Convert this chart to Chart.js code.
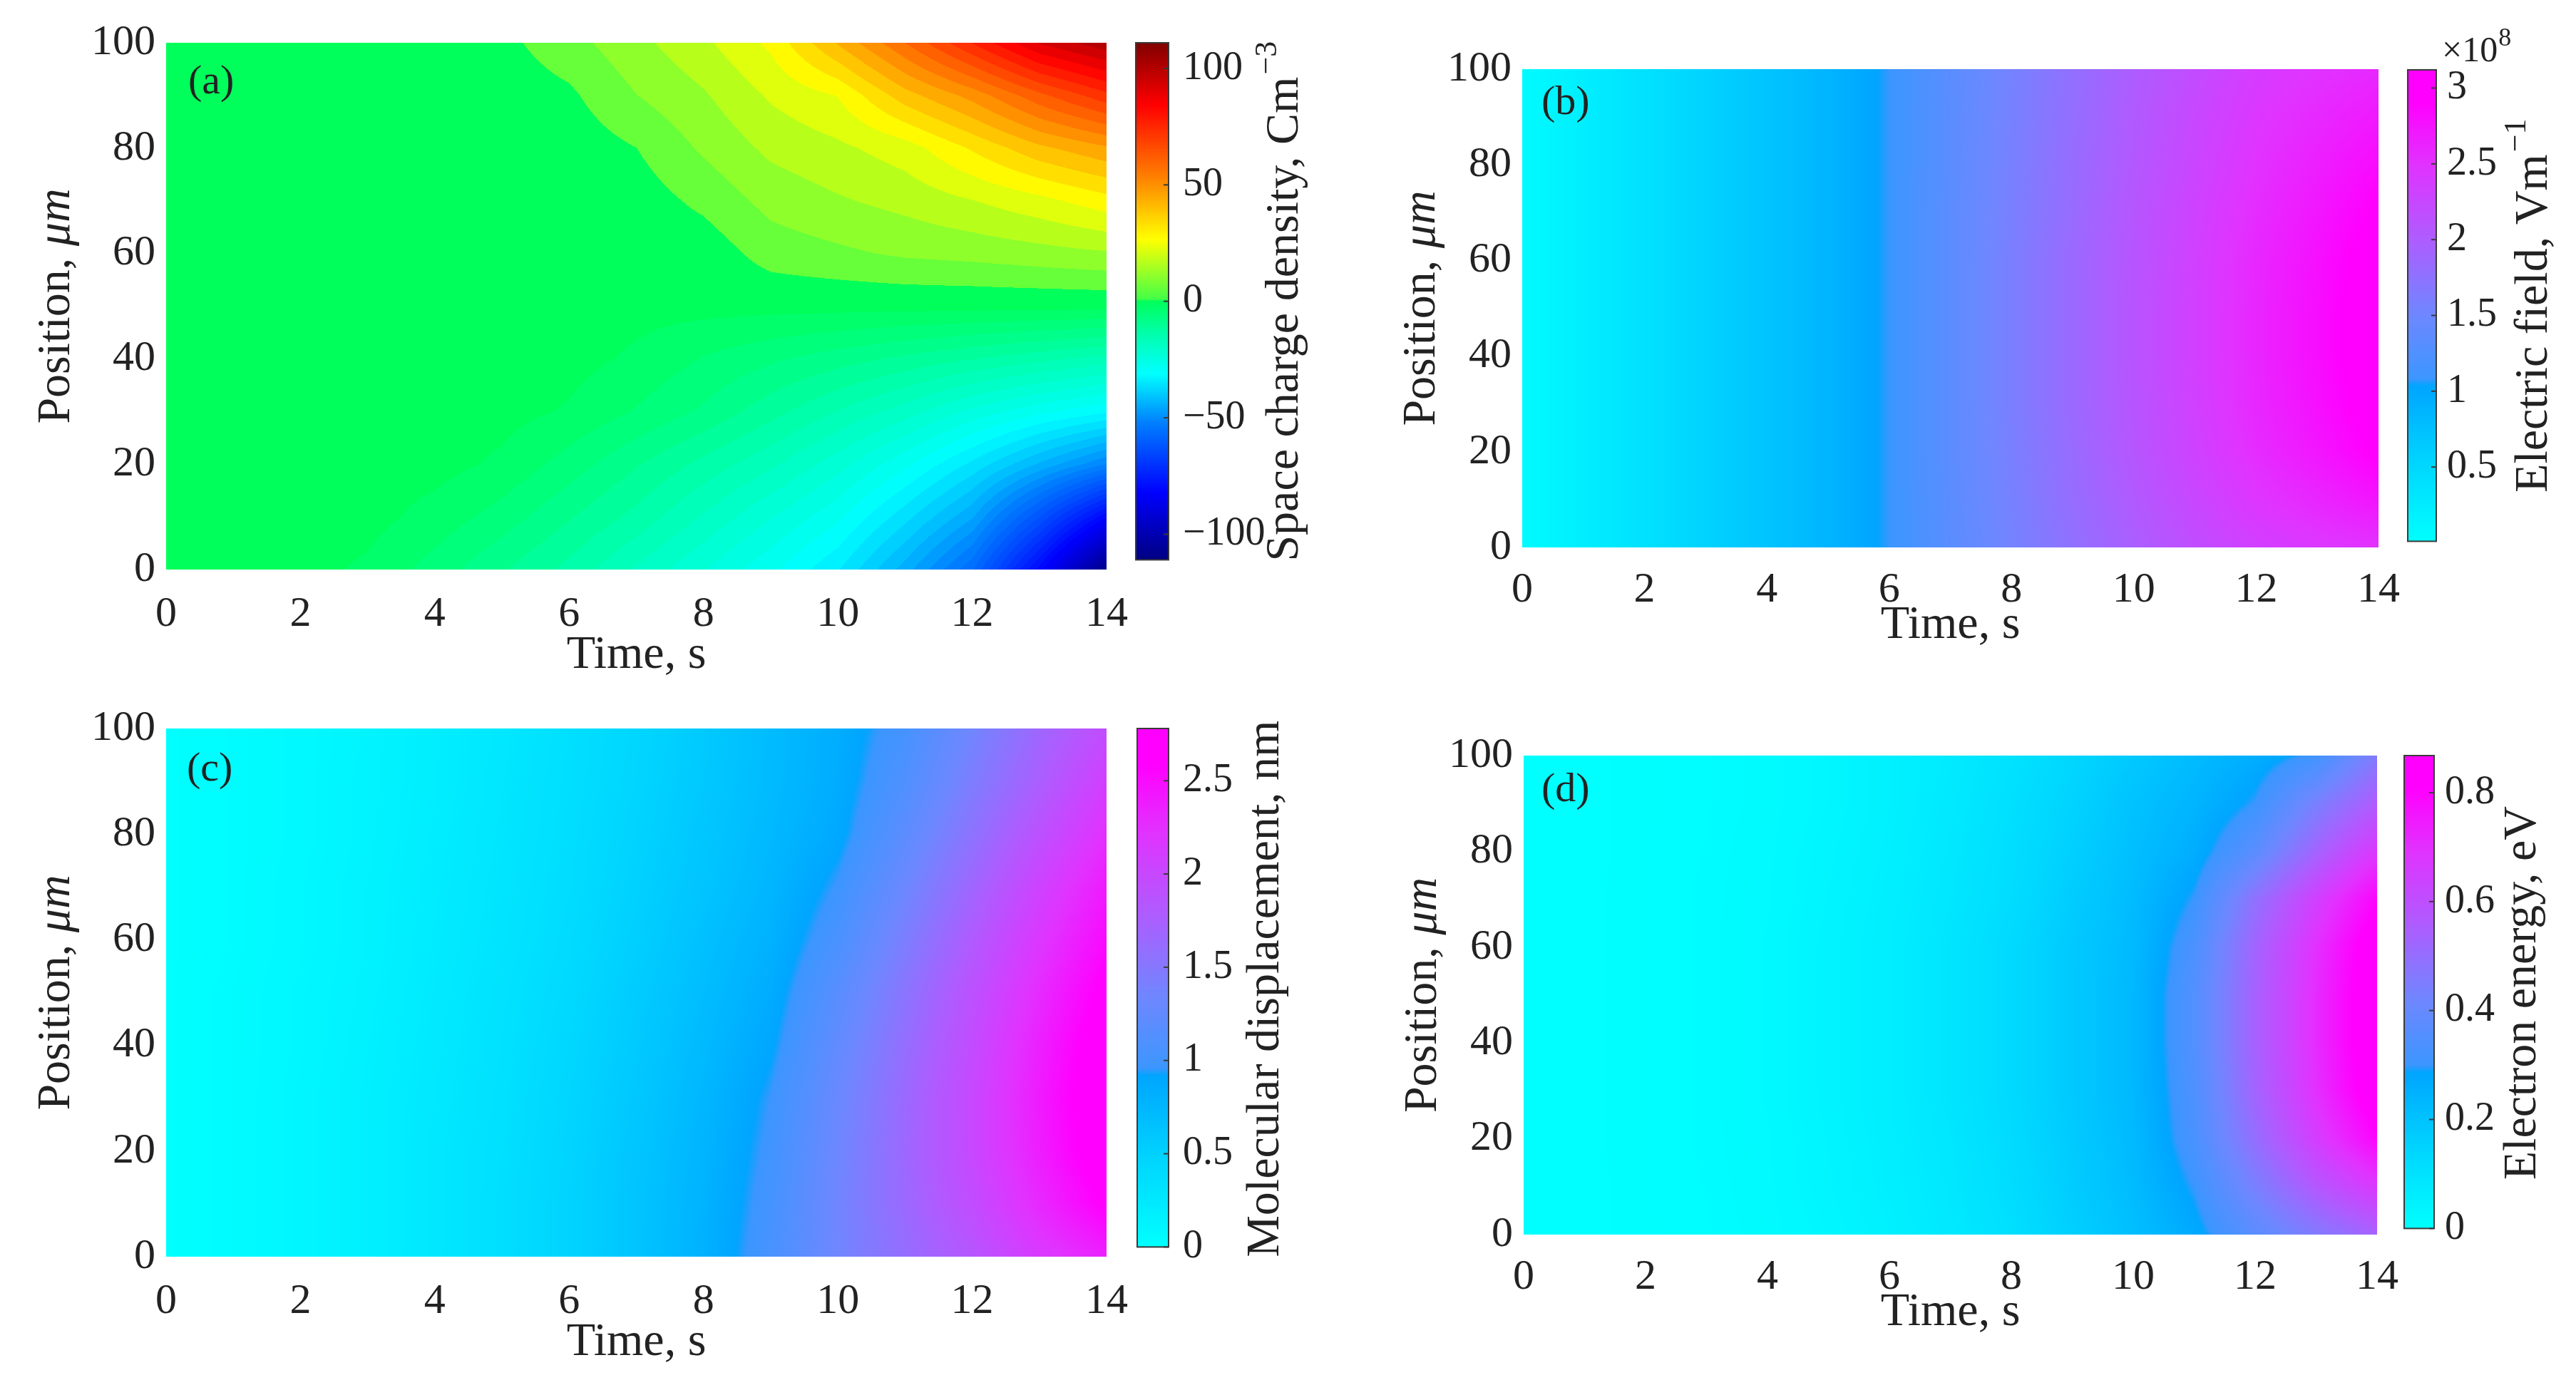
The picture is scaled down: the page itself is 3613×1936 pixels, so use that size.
<!DOCTYPE html>
<html>
<head>
<meta charset="utf-8">
<script src="https://cdn.jsdelivr.net/npm/chart.js@4.4.0/dist/chart.umd.min.js"></script>
<style>
  html, body { margin: 0; padding: 0; background: #fff; }
  body { width: 3613px; height: 1936px; position: relative; overflow: hidden; }
  canvas { position: absolute; }
</style>
</head>
<body>
<canvas id="plotA"></canvas><canvas id="barA"></canvas>
<canvas id="plotB"></canvas><canvas id="barB"></canvas>
<canvas id="plotC"></canvas><canvas id="barC"></canvas>
<canvas id="plotD"></canvas><canvas id="barD"></canvas>
<script>
// grid axes
const times = [0, 1, 2, 3, 4, 5, 6, 7, 8, 9, 10, 11, 12, 13, 14];
const positions = [0, 10, 20, 30, 40, 50, 60, 70, 80, 90, 100];

// (a) space charge density, C m^-3 -- one row per position (0 -> 100 um), one column per time
const spaceCharge = [
  [1, 1, 1, -0.5, -4, -8, -12, -17, -22, -27, -33, -43, -55, -79, -108],
  [1, 1, 1, 1, -1, -4, -8, -12, -17, -22, -27, -35, -44, -61, -80],
  [1, 1, 1, 1, 1, -0.5, -4, -8, -12, -16, -21, -27, -34, -42, -50],
  [1, 1, 1, 1, 1, 1, -0.3, -3, -6, -10, -14, -18, -23, -27, -30],
  [1, 1, 1, 1, 1, 1, 1, -0.5, -3, -5, -7, -9, -11, -13, -15],
  [1, 1, 1, 1, 1, 1, 1, 1, 1, 1, 1, 1, 1, 1, 1],
  [1, 1, 1, 1, 1, 1, 1, 1, 2, 8, 10, 12, 13, 14.5, 16],
  [1, 1, 1, 1, 1, 1, 1, 2.5, 7, 13, 16, 18.5, 22, 26, 31],
  [1, 1, 1, 1, 1, 1, 2, 5.5, 12, 18, 21, 25, 34, 43, 49],
  [1, 1, 1, 1, 1, 2, 4.5, 11, 16, 23, 28, 42, 52, 65, 76],
  [1, 1, 1, 1, 1, 4, 9, 15, 21, 29, 45, 61, 78, 95, 104]
];

// (b) electric field, x1e8 V m^-1
const electricField = [
  [0.05, 0.22, 0.38, 0.55, 0.71, 0.87, 1.08, 1.33, 1.55, 1.77, 1.98, 2.18, 2.35, 2.44, 2.50],
  [0.05, 0.22, 0.38, 0.55, 0.71, 0.87, 1.08, 1.34, 1.57, 1.81, 2.03, 2.26, 2.46, 2.60, 2.75],
  [0.05, 0.22, 0.38, 0.55, 0.71, 0.87, 1.08, 1.35, 1.59, 1.83, 2.08, 2.32, 2.55, 2.73, 2.94],
  [0.05, 0.22, 0.38, 0.55, 0.71, 0.87, 1.08, 1.35, 1.60, 1.85, 2.09, 2.34, 2.59, 2.78, 3.02],
  [0.05, 0.22, 0.38, 0.55, 0.71, 0.87, 1.08, 1.35, 1.60, 1.85, 2.10, 2.35, 2.60, 2.80, 3.05],
  [0.05, 0.22, 0.38, 0.55, 0.71, 0.87, 1.08, 1.35, 1.60, 1.85, 2.10, 2.35, 2.60, 2.80, 3.05],
  [0.05, 0.22, 0.38, 0.55, 0.71, 0.87, 1.08, 1.35, 1.60, 1.85, 2.09, 2.34, 2.59, 2.78, 3.02],
  [0.05, 0.22, 0.38, 0.55, 0.71, 0.87, 1.08, 1.35, 1.59, 1.83, 2.08, 2.32, 2.55, 2.73, 2.94],
  [0.05, 0.22, 0.38, 0.55, 0.71, 0.87, 1.08, 1.34, 1.58, 1.82, 2.05, 2.28, 2.50, 2.66, 2.83],
  [0.05, 0.22, 0.38, 0.55, 0.71, 0.87, 1.08, 1.34, 1.57, 1.80, 2.03, 2.25, 2.45, 2.58, 2.71],
  [0.05, 0.22, 0.38, 0.55, 0.71, 0.87, 1.08, 1.33, 1.56, 1.78, 2.00, 2.20, 2.39, 2.49, 2.58]
];

// (c) molecular displacement, nm
const displacement = [
  [0, 0.04, 0.10, 0.17, 0.26, 0.36, 0.48, 0.62, 0.80, 1.05, 1.35, 1.60, 1.85, 2.15, 2.35],
  [0, 0.04, 0.10, 0.17, 0.26, 0.36, 0.48, 0.62, 0.79, 1.02, 1.35, 1.65, 1.95, 2.30, 2.62],
  [0, 0.04, 0.10, 0.17, 0.26, 0.35, 0.47, 0.61, 0.77, 0.99, 1.33, 1.66, 2.00, 2.38, 2.74],
  [0, 0.04, 0.10, 0.17, 0.25, 0.34, 0.46, 0.59, 0.75, 0.96, 1.30, 1.65, 2.00, 2.40, 2.78],
  [0, 0.04, 0.09, 0.16, 0.24, 0.33, 0.44, 0.57, 0.72, 0.90, 1.24, 1.60, 1.96, 2.36, 2.74],
  [0, 0.04, 0.09, 0.15, 0.23, 0.32, 0.42, 0.55, 0.69, 0.85, 1.17, 1.53, 1.90, 2.28, 2.65],
  [0, 0.03, 0.08, 0.14, 0.22, 0.30, 0.40, 0.52, 0.66, 0.80, 1.06, 1.43, 1.80, 2.18, 2.52],
  [0, 0.03, 0.08, 0.14, 0.21, 0.29, 0.38, 0.50, 0.62, 0.76, 0.97, 1.32, 1.68, 2.06, 2.40],
  [0, 0.03, 0.07, 0.13, 0.20, 0.28, 0.37, 0.48, 0.60, 0.73, 0.88, 1.20, 1.55, 1.90, 2.25],
  [0, 0.03, 0.07, 0.13, 0.19, 0.27, 0.36, 0.46, 0.58, 0.71, 0.85, 1.10, 1.44, 1.76, 2.10],
  [0, 0.03, 0.07, 0.12, 0.19, 0.26, 0.35, 0.45, 0.57, 0.70, 0.84, 1.03, 1.35, 1.67, 1.95]
];

// (d) electron energy, eV
const electronEnergy = [
  [0, 0, 0.004, 0.008, 0.015, 0.030, 0.050, 0.075, 0.110, 0.160, 0.210, 0.270, 0.370, 0.460, 0.540],
  [0, 0, 0.004, 0.009, 0.017, 0.035, 0.055, 0.080, 0.120, 0.170, 0.220, 0.300, 0.440, 0.570, 0.680],
  [0, 0, 0.005, 0.010, 0.018, 0.037, 0.058, 0.085, 0.125, 0.175, 0.225, 0.330, 0.500, 0.660, 0.800],
  [0, 0, 0.005, 0.010, 0.020, 0.040, 0.060, 0.090, 0.130, 0.180, 0.230, 0.340, 0.530, 0.700, 0.860],
  [0, 0, 0.005, 0.010, 0.020, 0.040, 0.060, 0.090, 0.130, 0.180, 0.230, 0.350, 0.540, 0.710, 0.870],
  [0, 0, 0.005, 0.010, 0.020, 0.040, 0.060, 0.090, 0.130, 0.180, 0.230, 0.350, 0.540, 0.710, 0.870],
  [0, 0, 0.005, 0.010, 0.020, 0.040, 0.060, 0.090, 0.130, 0.180, 0.225, 0.335, 0.530, 0.700, 0.860],
  [0, 0, 0.005, 0.010, 0.018, 0.037, 0.057, 0.085, 0.120, 0.170, 0.220, 0.300, 0.490, 0.650, 0.800],
  [0, 0, 0.004, 0.009, 0.017, 0.034, 0.053, 0.080, 0.115, 0.160, 0.210, 0.260, 0.370, 0.530, 0.680],
  [0, 0, 0.004, 0.008, 0.015, 0.030, 0.050, 0.075, 0.110, 0.150, 0.200, 0.240, 0.300, 0.440, 0.560],
  [0, 0, 0.004, 0.008, 0.015, 0.030, 0.050, 0.070, 0.100, 0.140, 0.180, 0.220, 0.260, 0.310, 0.460]
];

// tick labels
const timeTicks = [0, 2, 4, 6, 8, 10, 12, 14];
const positionTicks = [0, 20, 40, 60, 80, 100];
const chargeBarTicks = [-100, -50, 0, 50, 100];
const fieldBarTicks = [0.5, 1, 1.5, 2, 2.5, 3];
const dispBarTicks = [0, 0.5, 1, 1.5, 2, 2.5];
const energyBarTicks = [0, 0.2, 0.4, 0.6, 0.8];

// colour scale limits
const chargeRange = [-111, 111];
const fieldRange = [0.01, 3.12];
const dispRange = [0, 2.78];
const energyRange = [0, 0.868];

// colour maps: [fraction, r, g, b]
const jetStops = [
  [0.00, 0, 0, 130], [0.13, 0, 0, 255], [0.266, 0, 128, 255], [0.36, 0, 255, 255],
  [0.43, 0, 255, 180], [0.50, 0, 255, 90], [0.505, 70, 255, 70], [0.62, 255, 255, 0],
  [0.74, 255, 128, 0], [0.88, 255, 0, 0], [1.00, 128, 0, 0]
];
const coolStops = [
  [0.00, 0, 255, 255], [0.16, 0, 215, 255], [0.33, 0, 165, 255], [0.345, 60, 150, 255],
  [0.48, 110, 135, 255], [0.63, 170, 95, 255], [0.80, 225, 50, 255], [0.93, 255, 0, 255],
  [1.00, 255, 0, 255]
];

Chart.defaults.font.family = "'Liberation Serif', 'Times New Roman', serif";
Chart.defaults.color = '#222';
const INK = '#222';
const SERIF = "'Liberation Serif', 'Times New Roman', serif";

function colorAt(stops, f) {
  f = Math.max(0, Math.min(1, f));
  for (let i = 1; i < stops.length; i++) {
    if (f <= stops[i][0]) {
      const a = stops[i - 1], b = stops[i];
      const u = (f - a[0]) / (b[0] - a[0]);
      return [a[1] + (b[1] - a[1]) * u, a[2] + (b[2] - a[2]) * u, a[3] + (b[3] - a[3]) * u];
    }
  }
  const l = stops[stops.length - 1];
  return [l[1], l[2], l[3]];
}

function findCell(arr, v) {
  let i = 0;
  while (i < arr.length - 2 && v > arr[i + 1]) i++;
  return i;
}

// bilinear look-up in a position x time grid
function sampleGrid(grid, t, p) {
  const i = findCell(times, t), j = findCell(positions, p);
  const u = Math.max(0, Math.min(1, (t - times[i]) / (times[i + 1] - times[i])));
  const w = Math.max(0, Math.min(1, (p - positions[j]) / (positions[j + 1] - positions[j])));
  return grid[j][i] * (1 - u) * (1 - w) + grid[j][i + 1] * u * (1 - w) +
         grid[j + 1][i] * (1 - u) * w + grid[j + 1][i + 1] * u * w;
}

// filled-contour look: coarse levels above zero, finer ones below
function levelOf(v, step) {
  if (!step) return v;
  const s = v >= 0 ? step : step / 2;
  return Math.floor(v / s) * s;
}

function heatmapPlugin(grid, range, stops, step) {
  return {
    id: 'heatmap',
    beforeDatasetsDraw(chart) {
      const area = chart.chartArea, xs = chart.scales.x, ys = chart.scales.y;
      const w = Math.round(area.right - area.left), h = Math.round(area.bottom - area.top);
      const off = document.createElement('canvas');
      off.width = w; off.height = h;
      const octx = off.getContext('2d');
      const img = octx.createImageData(w, h);
      const tv = [], pv = [];
      for (let i = 0; i < w; i++) tv.push(xs.getValueForPixel(area.left + i + 0.5));
      for (let j = 0; j < h; j++) pv.push(ys.getValueForPixel(area.top + j + 0.5));
      let k = 0;
      for (let j = 0; j < h; j++) {
        for (let i = 0; i < w; i++) {
          const v = levelOf(sampleGrid(grid, tv[i], pv[j]), step);
          const c = colorAt(stops, (v - range[0]) / (range[1] - range[0]));
          img.data[k++] = c[0]; img.data[k++] = c[1]; img.data[k++] = c[2]; img.data[k++] = 255;
        }
      }
      octx.putImageData(img, 0, 0);
      chart.ctx.drawImage(off, area.left, area.top);
    }
  };
}

// panel letter plus the y title with an italic unit
function panelTextPlugin(text, dx, dy, yTitleDx) {
  return {
    id: 'panelText',
    afterDraw(chart) {
      const ctx = chart.ctx, a = chart.chartArea;
      ctx.save();
      ctx.font = '58px ' + SERIF;
      ctx.fillStyle = INK;
      ctx.textBaseline = 'middle';
      ctx.fillText(text, a.left + dx, a.top + dy);
      ctx.restore();

      ctx.save();
      ctx.fillStyle = INK;
      ctx.translate(a.left - yTitleDx, (a.top + a.bottom) / 2);
      ctx.rotate(-Math.PI / 2);
      ctx.textBaseline = 'middle';
      ctx.font = '66px ' + SERIF;
      const w1 = ctx.measureText('Position, ').width;
      ctx.font = 'italic 66px ' + SERIF;
      const w2 = ctx.measureText('μm').width;
      const x0 = -(w1 + w2) / 2;
      ctx.font = '66px ' + SERIF;
      ctx.fillText('Position, ', x0, 0);
      ctx.font = 'italic 66px ' + SERIF;
      ctx.fillText('μm', x0 + w1, 0);
      ctx.restore();
    }
  };
}

const Y_AXIS_W = 200, X_AXIS_H = 170, PAD_T = 60, PAD_R = 60;

function makePanel(id, box, grid, range, stops, step, label) {
  const cv = document.getElementById(id);
  cv.width = box.r - box.l + Y_AXIS_W + PAD_R;
  cv.height = box.b - box.t + PAD_T + X_AXIS_H;
  cv.style.left = (box.l - Y_AXIS_W) + 'px';
  cv.style.top = (box.t - PAD_T) + 'px';
  const lh = 66 * 1.2;
  return new Chart(cv, {
    type: 'scatter',
    data: { datasets: [{ data: [], pointRadius: 0 }] },
    options: {
      responsive: false,
      animation: false,
      layout: { padding: { top: PAD_T, right: PAD_R, left: 0, bottom: 0 } },
      plugins: { legend: { display: false }, tooltip: { enabled: false } },
      scales: {
        x: {
          type: 'linear', min: 0, max: 14,
          afterBuildTicks: s => { s.ticks = timeTicks.map(v => ({ value: v })); },
          afterFit: s => { s.height = X_AXIS_H; },
          grid: { display: false, drawTicks: false },
          border: { display: false },
          ticks: { font: { size: 60 }, color: INK, padding: box.tickPad, maxRotation: 0 },
          title: {
            display: true, text: 'Time, s', color: INK, font: { size: 66 },
            padding: { top: 0, bottom: X_AXIS_H - box.xTitle - lh / 2 }
          }
        },
        y: {
          type: 'linear', min: 0, max: 100,
          afterBuildTicks: s => { s.ticks = positionTicks.map(v => ({ value: v })); },
          afterFit: s => { s.width = Y_AXIS_W; },
          grid: { display: false, drawTicks: false },
          border: { display: false },
          ticks: { font: { size: 60 }, color: INK, padding: 15 }
        }
      }
    },
    plugins: [heatmapPlugin(grid, range, stops, step), panelTextPlugin(label, box.labX, box.labY, box.yTitle)]
  });
}

function colorbarPlugin(range, stops, ticks, title, sup, titleDx, multiplier) {
  return {
    id: 'colorbar',
    beforeDatasetsDraw(chart) {
      const ctx = chart.ctx, a = chart.chartArea, ys = chart.scales.y;
      const top = Math.round(a.top), bottom = Math.round(a.bottom);
      for (let py = top; py < bottom; py++) {
        const v = ys.getValueForPixel(py + 0.5);
        const c = colorAt(stops, (v - range[0]) / (range[1] - range[0]));
        ctx.fillStyle = 'rgb(' + c.map(Math.round).join(',') + ')';
        ctx.fillRect(a.left, py, a.right - a.left, 1);
      }
      ctx.save();
      ctx.strokeStyle = '#3a3a3a';
      ctx.lineWidth = 2;
      ctx.strokeRect(a.left, a.top, a.right - a.left, a.bottom - a.top);
      ticks.forEach(v => {
        const py = ys.getPixelForValue(v);
        ctx.beginPath();
        ctx.moveTo(a.right, py);
        ctx.lineTo(a.right - 7, py);
        ctx.stroke();
      });
      ctx.restore();
    },
    afterDraw(chart) {
      const ctx = chart.ctx, a = chart.chartArea;
      ctx.save();
      ctx.fillStyle = INK;
      ctx.translate(a.right + titleDx, (a.top + a.bottom) / 2);
      ctx.rotate(-Math.PI / 2);
      ctx.font = '66px ' + SERIF;
      const mw = ctx.measureText(title).width;
      ctx.font = '44px ' + SERIF;
      const sw = ctx.measureText(sup).width;
      const x0 = -(mw + sw + 3) / 2;
      ctx.textBaseline = 'alphabetic';
      ctx.font = '66px ' + SERIF;
      ctx.fillText(title, x0, 22);
      ctx.font = '44px ' + SERIF;
      ctx.fillText(sup, x0 + mw + 3, -8);
      ctx.restore();
      if (multiplier) {
        ctx.save();
        ctx.fillStyle = INK;
        ctx.textBaseline = 'alphabetic';
        ctx.font = '50px ' + SERIF;
        const bx = a.right + 8, by = a.top - 12;
        ctx.fillText(multiplier[0], bx, by);
        const w0 = ctx.measureText(multiplier[0]).width;
        ctx.font = '36px ' + SERIF;
        ctx.fillText(multiplier[1], bx + w0 + 1, by - 22);
        ctx.restore();
      }
    }
  };
}

const CB_PAD_T = 80, CB_PAD_B = 40, CB_PAD_L = 10, CB_AXIS_W = 250;

function makeColorbar(id, box, range, ticks, stops, title, sup, titleDx, tickPad, multiplier) {
  const cv = document.getElementById(id);
  cv.width = box.r - box.l + CB_PAD_L + CB_AXIS_W;
  cv.height = box.b - box.t + CB_PAD_T + CB_PAD_B;
  cv.style.left = (box.l - CB_PAD_L) + 'px';
  cv.style.top = (box.t - CB_PAD_T) + 'px';
  return new Chart(cv, {
    type: 'scatter',
    data: { datasets: [{ data: [], pointRadius: 0 }] },
    options: {
      responsive: false,
      animation: false,
      layout: { padding: { top: CB_PAD_T, bottom: CB_PAD_B, left: CB_PAD_L, right: 0 } },
      plugins: { legend: { display: false }, tooltip: { enabled: false } },
      scales: {
        x: { type: 'linear', min: 0, max: 1, display: false },
        y: {
          type: 'linear', position: 'right', min: range[0], max: range[1],
          afterBuildTicks: s => { s.ticks = ticks.map(v => ({ value: v })); },
          afterFit: s => { s.width = CB_AXIS_W; },
          grid: { display: false, drawTicks: false },
          border: { display: false },
          ticks: {
            font: { size: 56 }, color: INK, padding: tickPad,
            callback: v => (v < 0 ? '\u2212' + Math.abs(v) : String(v))
          }
        }
      }
    },
    plugins: [colorbarPlugin(range, stops, ticks, title, sup, titleDx, multiplier)]
  });
}

const STEP_A = 222 / 40;

makePanel('plotA', { l: 233, t: 60, r: 1552, b: 799, tickPad: 27, xTitle: 121, yTitle: 153, labX: 31, labY: 56 },
  spaceCharge, chargeRange, jetStops, STEP_A, '(a)');
makeColorbar('barA', { l: 1593, t: 60, r: 1639, b: 799 }, chargeRange, chargeBarTicks, jetStops,
  'Space charge density, Cm', '\u22123', 159, 20);

makePanel('plotB', { l: 2135, t: 97, r: 3336, b: 768, tickPad: 24, xTitle: 110, yTitle: 140, labX: 27, labY: 48 },
  electricField, fieldRange, coolStops, 0, '(b)');
makeColorbar('barB', { l: 3377, t: 98, r: 3417, b: 768 }, fieldRange, fieldBarTicks, coolStops,
  'Electric field, Vm', '\u22121', 133, 15, ['\u00d710', '8']);

makePanel('plotC', { l: 233, t: 1022, r: 1552, b: 1763, tickPad: 27, xTitle: 121, yTitle: 153, labX: 29, labY: 58 },
  displacement, dispRange, coolStops, 0, '(c)');
makeColorbar('barC', { l: 1595, t: 1022, r: 1639, b: 1763 }, dispRange, dispBarTicks, coolStops,
  'Molecular displacement, nm', '', 132, 20);

makePanel('plotD', { l: 2137, t: 1060, r: 3334, b: 1732, tickPad: 24, xTitle: 110, yTitle: 140, labX: 25, labY: 49 },
  electronEnergy, energyRange, coolStops, 0, '(d)');
makeColorbar('barD', { l: 3372, t: 1060, r: 3414, b: 1732 }, energyRange, energyBarTicks, coolStops,
  'Electron energy, eV', '', 120, 15);
</script>
</body>
</html>
